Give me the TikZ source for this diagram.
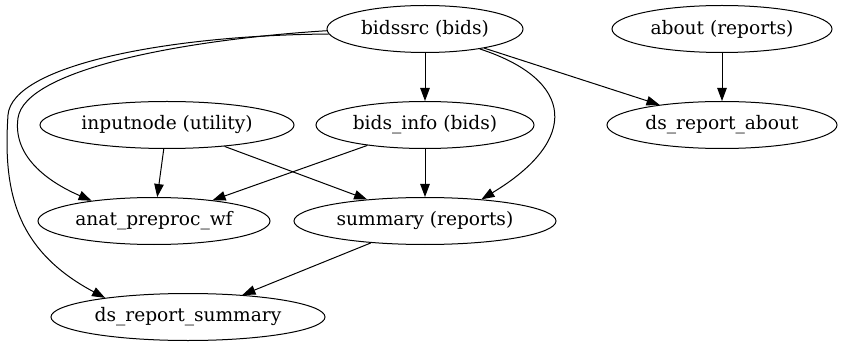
\documentclass[tikz,border=0pt]{standalone}
\usepackage{fontspec}
\setmainfont{DejaVu Serif}
\usetikzlibrary{shapes.geometric,arrows.meta}

\begin{document}
\begin{tikzpicture}[x=1pt,y=-1pt,
  proc/.style={ellipse,draw,line width=1pt,inner sep=0pt,minimum height=47pt,font=\fontsize{18.6}{22}\selectfont},
  edge/.style={line width=1pt,-{Triangle[length=13pt,width=9.5pt]}}]
\useasboundingbox (0,0) rectangle (842,347);
\node[proc,minimum width=196pt] (bidssrc) at (425,29) {bidssrc (bids)};
\node[proc,minimum width=220pt] (about) at (722,29) {about (reports)};
\node[proc,minimum width=254pt] (inputnode) at (167,125) {inputnode (utility)};
\node[proc,minimum width=218pt] (bidsinfo) at (425,125) {bids\_info (bids)};
\node[proc,minimum width=230pt] (dsabout) at (722,125) {ds\_report\_about};
\node[proc,minimum width=232pt] (anat) at (154,221) {anat\_preproc\_wf};
\node[proc,minimum width=262pt] (summary) at (425,221) {summary (reports)};
\node[proc,minimum width=274pt] (dssummary) at (188,317) {ds\_report\_summary};
\draw[edge] (bidssrc) -- (bidsinfo);
\draw[edge] (bidssrc) -- (dsabout);
\draw[edge] (about) -- (dsabout);
\draw[edge] (bidssrc.-20) .. controls (575,80) and (580,140) .. (summary.21);
\draw[edge] (bidssrc.181) .. controls (180,40) and (25,70) .. (18,118) .. controls (12,160) and (55,185) .. (anat.162);
\draw[edge] (bidssrc.183) .. controls (170,35) and (12,65) .. (8,115) .. controls (3,190) and (15,250) .. (dssummary.167);
\draw[edge] (inputnode) -- (anat);
\draw[edge] (inputnode) -- (summary);
\draw[edge] (bidsinfo) -- (anat);
\draw[edge] (bidsinfo) -- (summary);
\draw[edge] (summary) -- (dssummary);
\end{tikzpicture}
\end{document}
